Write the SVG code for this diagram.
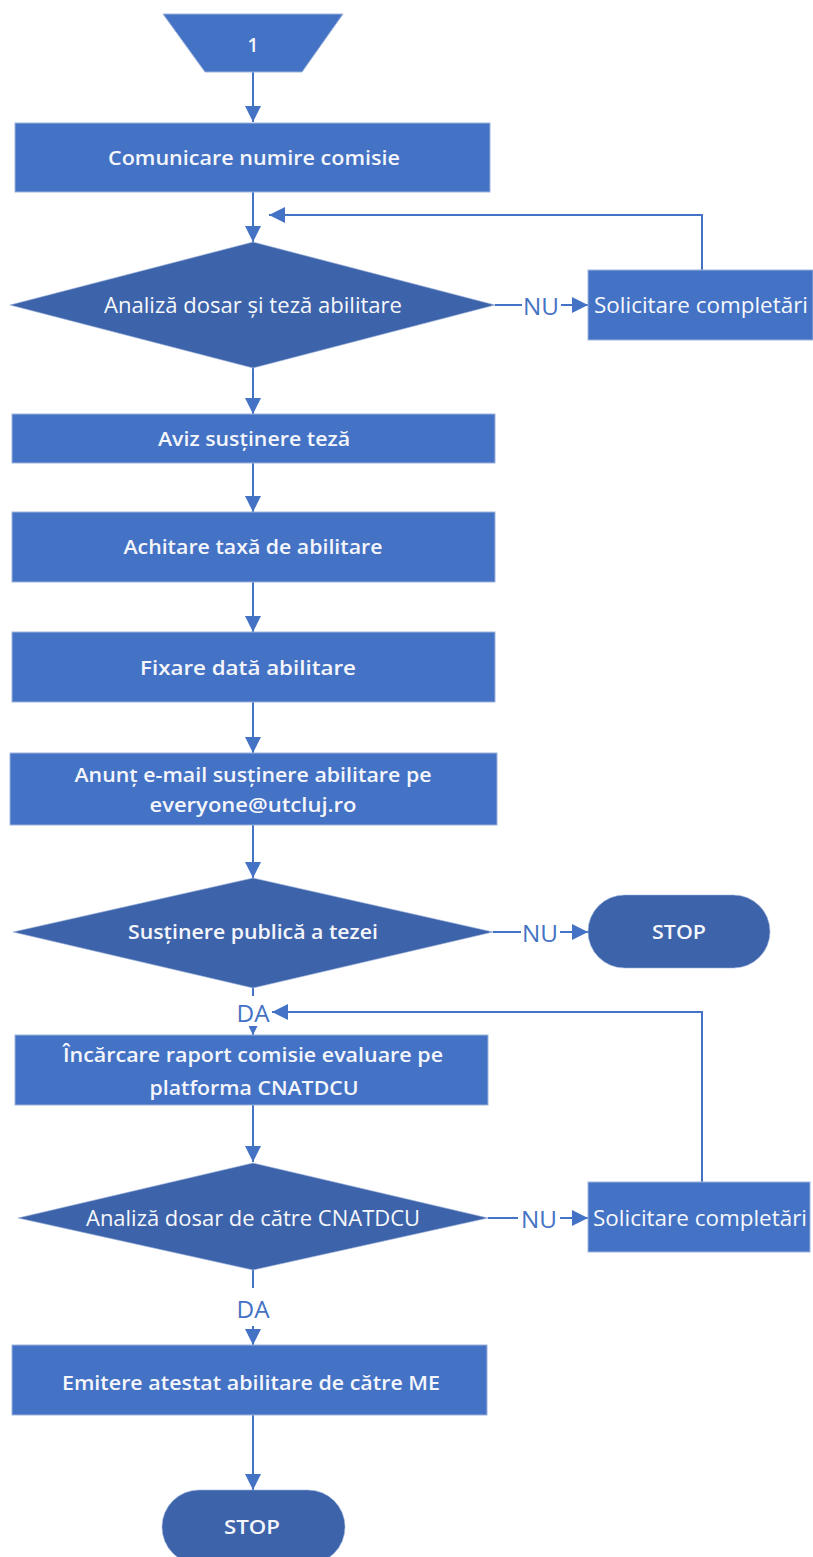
<svg xmlns="http://www.w3.org/2000/svg" width="813" height="1557" viewBox="0 0 813 1557">
<defs>
<marker id="ah" viewBox="0 0 10 10" refX="10" refY="5" markerWidth="9" markerHeight="9" markerUnits="userSpaceOnUse" orient="auto">
<path d="M0,0 L10,5 L0,10 z" fill="#4472C4"/>
</marker>
<marker id="ahb" viewBox="0 0 10 10" refX="10" refY="5" markerWidth="16" markerHeight="16" markerUnits="userSpaceOnUse" orient="auto">
<path d="M0,0 L10,5 L0,10 z" fill="#4472C4"/>
</marker>
<style>
.box{fill:#4472C4;stroke:#9DB3DC;stroke-width:1}
.dk{fill:#3D63AA;stroke:#9DB3DC;stroke-width:0.6}
.t{font-family:"Open Sans","Liberation Sans",sans-serif;font-weight:600;font-size:19px;fill:#F4F6FB;text-anchor:middle;dominant-baseline:central}
.c{font-family:"Open Sans","Liberation Sans",sans-serif;font-weight:500;font-size:21px;fill:#F6F8FC;text-anchor:middle;dominant-baseline:central}
.lbl{font-family:"Open Sans","Liberation Sans",sans-serif;font-weight:400;font-size:24px;fill:#4472C4;text-anchor:middle;dominant-baseline:central}
.ln{stroke:#4472C4;stroke-width:2;fill:none}
</style>
</defs>

<g id="connectors">
<line class="ln" x1="253" y1="72" x2="253" y2="122" marker-end="url(#ahb)"/>
<line class="ln" x1="253" y1="192" x2="253" y2="242" marker-end="url(#ahb)"/>
<line class="ln" x1="253" y1="368" x2="253" y2="414" marker-end="url(#ahb)"/>
<line class="ln" x1="253" y1="463" x2="253" y2="512" marker-end="url(#ahb)"/>
<line class="ln" x1="253" y1="582" x2="253" y2="632" marker-end="url(#ahb)"/>
<line class="ln" x1="253" y1="702" x2="253" y2="753" marker-end="url(#ahb)"/>
<line class="ln" x1="253" y1="825" x2="253" y2="878" marker-end="url(#ahb)"/>
<line class="ln" x1="253" y1="988" x2="253" y2="996"/>
<line class="ln" x1="253" y1="1027" x2="253" y2="1035" marker-end="url(#ah)"/>
<line class="ln" x1="253" y1="1105" x2="253" y2="1162" marker-end="url(#ahb)"/>
<line class="ln" x1="253" y1="1270" x2="253" y2="1288"/>
<line class="ln" x1="253" y1="1326" x2="253" y2="1345" marker-end="url(#ahb)"/>
<line class="ln" x1="253" y1="1415" x2="253" y2="1490" marker-end="url(#ahb)"/>
<!-- NU branches -->
<line class="ln" x1="495" y1="305" x2="522" y2="305"/>
<line class="ln" x1="561" y1="305" x2="588" y2="305" marker-end="url(#ahb)"/>
<line class="ln" x1="493" y1="932" x2="521" y2="932"/>
<line class="ln" x1="560" y1="932" x2="588" y2="932" marker-end="url(#ahb)"/>
<line class="ln" x1="488" y1="1218" x2="518" y2="1218"/>
<line class="ln" x1="560" y1="1218" x2="588" y2="1218" marker-end="url(#ahb)"/>
<!-- loops -->
<polyline class="ln" points="702,270 702,215 269,215" marker-end="url(#ahb)"/>
<polyline class="ln" points="702,1182 702,1012 272,1012" marker-end="url(#ahb)"/>
<!-- labels -->
<text class="lbl" x="541" y="305" textLength="36" lengthAdjust="spacingAndGlyphs">NU</text>
<text class="lbl" x="540" y="932" textLength="36" lengthAdjust="spacingAndGlyphs">NU</text>
<text class="lbl" x="539" y="1218" textLength="36" lengthAdjust="spacingAndGlyphs">NU</text>
<text class="lbl" x="253" y="1012" textLength="33" lengthAdjust="spacingAndGlyphs">DA</text>
<text class="lbl" x="253" y="1308" textLength="33" lengthAdjust="spacingAndGlyphs">DA</text>
</g>

<g id="start">
<polygon class="box" points="163,14 343,14 302,72 205,72"/>
<text class="t" x="253" y="45">1</text>
</g>

<g id="comunicare">
<rect class="box" x="15" y="123" width="475" height="69"/>
<text class="t" x="254" y="158" textLength="292" lengthAdjust="spacingAndGlyphs">Comunicare numire comisie</text>
</g>

<g id="analiza1">
<polygon class="dk" points="10,305 253,242 495,305 253,368"/>
<text class="c" x="253" y="305" textLength="298" lengthAdjust="spacingAndGlyphs">Analiză dosar și teză abilitare</text>
</g>

<g id="solicitare1">
<rect class="box" x="588" y="270" width="225" height="70"/>
<text class="c" x="701" y="305" textLength="214" lengthAdjust="spacingAndGlyphs">Solicitare completări</text>
</g>

<g id="aviz">
<rect class="box" x="12" y="414" width="483" height="49"/>
<text class="t" x="254" y="439" textLength="192" lengthAdjust="spacingAndGlyphs">Aviz susținere teză</text>
</g>

<g id="achitare">
<rect class="box" x="12" y="512" width="483" height="70"/>
<text class="t" x="253" y="547" textLength="259" lengthAdjust="spacingAndGlyphs">Achitare taxă de abilitare</text>
</g>

<g id="fixare">
<rect class="box" x="12" y="632" width="483" height="70"/>
<text class="t" x="248" y="668" textLength="216" lengthAdjust="spacingAndGlyphs">Fixare dată abilitare</text>
</g>

<g id="anunt">
<rect class="box" x="10" y="753" width="487" height="72"/>
<text class="t" x="253" y="775" textLength="357" lengthAdjust="spacingAndGlyphs">Anunț e-mail susținere abilitare pe</text>
<text class="t" x="253" y="805" textLength="207" lengthAdjust="spacingAndGlyphs">everyone@utcluj.ro</text>
</g>

<g id="sustinere">
<polygon class="dk" points="13,932 253,878 493,932 253,988"/>
<text class="t" x="253" y="932" textLength="250" lengthAdjust="spacingAndGlyphs">Susținere publică a tezei</text>
</g>

<g id="stop1">
<rect class="dk" x="588" y="895" width="182" height="73" rx="36.5" ry="36.5"/>
<text class="t" x="679" y="932" textLength="54" lengthAdjust="spacingAndGlyphs">STOP</text>
</g>

<g id="incarcare">
<rect class="box" x="15" y="1035" width="473" height="70"/>
<text class="t" x="253" y="1055" textLength="380" lengthAdjust="spacingAndGlyphs">Încărcare raport comisie evaluare pe</text>
<text class="t" x="254" y="1088" textLength="209" lengthAdjust="spacingAndGlyphs">platforma CNATDCU</text>
</g>

<g id="analiza2">
<polygon class="dk" points="18,1218 253,1163 488,1218 253,1270"/>
<text class="c" x="253" y="1218" textLength="334" lengthAdjust="spacingAndGlyphs">Analiză dosar de către CNATDCU</text>
</g>

<g id="solicitare2">
<rect class="box" x="588" y="1182" width="222" height="70"/>
<text class="c" x="700" y="1218" textLength="214" lengthAdjust="spacingAndGlyphs">Solicitare completări</text>
</g>

<g id="emitere">
<rect class="box" x="12" y="1345" width="475" height="70"/>
<text class="t" x="251" y="1383" textLength="378" lengthAdjust="spacingAndGlyphs">Emitere atestat abilitare de către ME</text>
</g>

<g id="stop2">
<rect class="dk" x="162" y="1490" width="183" height="74" rx="37" ry="37"/>
<text class="t" x="252" y="1527" textLength="56" lengthAdjust="spacingAndGlyphs">STOP</text>
</g>
</svg>
